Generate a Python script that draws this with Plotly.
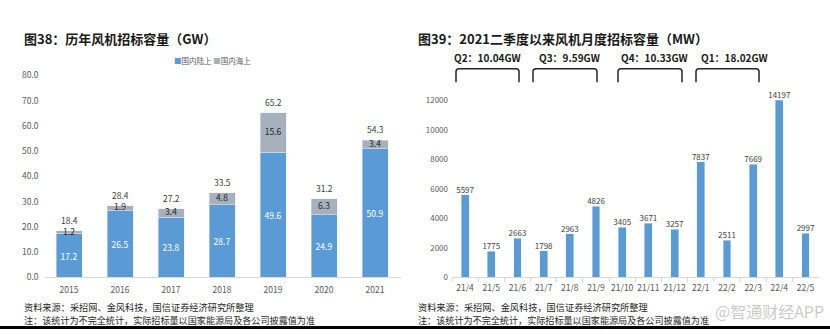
import numpy as np
import plotly.graph_objects as go

# ---------------- data ----------------
years = ["2015", "2016", "2017", "2018", "2019", "2020", "2021"]
onshore = [17.2, 26.5, 23.8, 28.7, 49.6, 24.9, 50.9]
offshore = [1.2, 1.9, 3.4, 4.8, 15.6, 6.3, 3.4]
totals = [18.4, 28.4, 27.2, 33.5, 65.2, 31.2, 54.3]

months = ["21/4", "21/5", "21/6", "21/7", "21/8", "21/9", "21/10", "21/11",
          "21/12", "22/1", "22/2", "22/3", "22/4", "22/5"]
monthly = [5597, 1775, 2663, 1798, 2963, 4826, 3405, 3671, 3257, 7837,
           2511, 7669, 14197, 2997]

quarter_labels = ["Q2：10.04GW", "Q3：9.59GW", "Q4：10.33GW", "Q1：18.02GW"]

left_title = "图38：历年风机招标容量（GW）"
right_title = "图39：2021二季度以来风机月度招标容量（MW）"
legend_names = ["国内陆上", "国内海上"]
source_note = "资料来源：采招网、金风科技，国信证券经济研究所整理"
note = "注：该统计为不完全统计，实际招标量以国家能源局及各公司披露值为准"
watermark = "@智通财经APP"

# ---------------- styling ----------------
W, H = 830, 334
FONT = "Noto Sans CJK SC"
BLUE = "#5b9bd5"
GRAY = "#a6b1bd"
TICK = "#595959"
LEFT_YMAX = 80
RIGHT_YMAX = 12000

def px(x):
    return x / W

def py(y):
    return 1 - y / H

fig = go.Figure()

# left chart: stacked bars
fig.add_trace(go.Bar(
    x=years, y=onshore, name=legend_names[0], marker_color=BLUE,
    text=[f"{v:.1f}" for v in onshore], textposition="inside",
    insidetextanchor="middle", textfont=dict(color="white", size=8.5, family=FONT),
    xaxis="x", yaxis="y", showlegend=False, cliponaxis=False,
))
fig.add_trace(go.Bar(
    x=years, y=offshore, name=legend_names[1], marker_color=GRAY,
    xaxis="x", yaxis="y", showlegend=False,
))
# offshore labels (centred on segment, allowed to overflow thin segments)
fig.add_trace(go.Scatter(
    x=years, y=[a + b / 2 for a, b in zip(onshore, offshore)],
    mode="text", text=[f"{v:.1f}" for v in offshore],
    textfont=dict(color="#262626", size=8.5, family=FONT),
    xaxis="x", yaxis="y", showlegend=False, hoverinfo="skip", cliponaxis=False,
))

# right chart: monthly bars
fig.add_trace(go.Bar(
    x=months, y=monthly, marker_color=BLUE, xaxis="x2", yaxis="y2",
    showlegend=False, width=0.3,
))
fig.add_trace(go.Scatter(
    x=months, y=list(np.minimum(monthly, RIGHT_YMAX)), mode="text",
    text=[str(v) for v in monthly], textposition="top center",
    textfont=dict(color="#404040", size=8, family=FONT),
    xaxis="x2", yaxis="y2", showlegend=False, hoverinfo="skip", cliponaxis=False,
))

fig.update_layout(
    width=W, height=H, margin=dict(l=0, r=0, t=0, b=0),
    paper_bgcolor="white", plot_bgcolor="white",
    barmode="stack", bargap=0.49,
    font=dict(family=FONT, color=TICK, size=8),
    showlegend=False,
    xaxis=dict(type="category", domain=[px(43.5), px(400.5)], anchor="y",
               range=[-0.5, len(years) - 0.5], showgrid=False,
               showline=True, linecolor="#d9d9d9", linewidth=1,
               tickfont=dict(size=8.5, color=TICK), ticks="", ticklabelstandoff=4,
               tickangle=0, fixedrange=True),
    yaxis=dict(domain=[py(280.5), py(71)], anchor="x", range=[0, LEFT_YMAX],
               dtick=10, tickformat=".1f", showgrid=False, zeroline=False,
               showline=False, tickfont=dict(size=8.5, color=TICK),
               ticklabelstandoff=4),
    xaxis2=dict(type="category", domain=[px(452), px(818.6)], anchor="y2",
                range=[-0.5, len(months) - 0.5], showgrid=False,
                showline=True, linecolor="#d9d9d9", linewidth=1,
                ticks="outside", tickson="boundaries", ticklen=4,
                tickcolor="#d9d9d9", tickfont=dict(size=8.5, color=TICK),
                tickangle=0, ticklabelstandoff=2),
    yaxis2=dict(domain=[py(280.5), py(96.7)], anchor="x2",
                range=[0, RIGHT_YMAX], dtick=2000, tickformat="d",
                showgrid=False, zeroline=False, showline=False,
                tickfont=dict(size=8, color=TICK), ticklabelstandoff=3),
)

ann = []
# totals above stacked bars (category index positions)
for i, t in enumerate(totals):
    ann.append(dict(x=i, y=t, xref="x", yref="y", xanchor="center",
                    yanchor="bottom", yshift=3, showarrow=False,
                    text=f"{t:.1f}",
                    font=dict(size=8.5, color="#404040", family=FONT)))
# titles
ann.append(dict(x=px(22), y=py(33), xref="paper", yref="paper", xanchor="left",
                yanchor="middle", showarrow=False,
                text=f"<b>{left_title}</b>",
                font=dict(size=13, color="#1a1a1a", family=FONT)))
ann.append(dict(x=px(416), y=py(33), xref="paper", yref="paper", xanchor="left",
                yanchor="middle", showarrow=False,
                text=f"<b>{right_title}</b>",
                font=dict(size=13, color="#1a1a1a", family=FONT)))
# legend (manual)
ann.append(dict(x=px(213), y=py(56), xref="paper", yref="paper",
                xanchor="center", yanchor="middle", showarrow=False,
                text=(f"<span style='color:{BLUE}'>■</span>{legend_names[0]} "
                      f"<span style='color:{GRAY}'>■</span>{legend_names[1]}"),
                font=dict(size=7.5, color="#595959", family=FONT)))
# quarter labels & brackets
q_text_x = [487.5, 569, 654, 734.5]
q_br = [(456, 519), (533, 597), (618, 682), (696, 759)]
for lab, cx, (x0, x1) in zip(quarter_labels, q_text_x, q_br):
    ann.append(dict(x=px(cx), y=py(52.5), xref="paper", yref="paper",
                    xanchor="center", yanchor="middle", showarrow=False,
                    text=f"<b>{lab}</b>",
                    font=dict(size=10, color="#1a1a1a", family=FONT)))
    r = 3
    path = (f"M {px(x0)},{py(78)} L {px(x0)},{py(64 + r)} "
            f"Q {px(x0)},{py(64)} {px(x0 + r)},{py(64)} "
            f"L {px(x1 - r)},{py(64)} Q {px(x1)},{py(64)} {px(x1)},{py(64 + r)} "
            f"L {px(x1)},{py(78)}")
    fig.add_shape(type="path", path=path, xref="paper", yref="paper",
                  line=dict(color="#262626", width=1.5))
# footers
for x0 in [22, 416]:
    ann.append(dict(x=px(x0), y=py(311), xref="paper", yref="paper",
                    xanchor="left", yanchor="middle", showarrow=False,
                    text=source_note, font=dict(size=9.2, color="#262626", family=FONT)))
    ann.append(dict(x=px(x0), y=py(324.5), xref="paper", yref="paper",
                    xanchor="left", yanchor="middle", showarrow=False,
                    text=note, font=dict(size=9.1, color="#262626", family=FONT)))
# watermark
ann.append(dict(x=px(713), y=py(315), xref="paper", yref="paper",
                xanchor="left", yanchor="middle", showarrow=False,
                text=watermark, font=dict(size=16, color="rgba(185,185,185,0.75)",
                                          family=FONT)))
fig.update_layout(annotations=ann)

# bottom rule
fig.add_shape(type="line", xref="paper", yref="paper", x0=0, x1=1,
              y0=py(332.5), y1=py(332.5), line=dict(color="black", width=3))

fig.write_html("out.html", config={"displayModeBar": False})
